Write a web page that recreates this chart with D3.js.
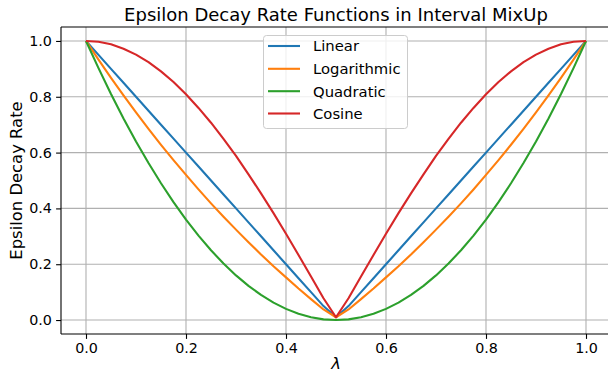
<!DOCTYPE html>
<html>
<head>
<meta charset="utf-8">
<script src="https://cdn.jsdelivr.net/npm/d3@7"></script>
<style>
  html, body { margin: 0; padding: 0; background: #fff; }
  svg { display: block; font-family: "DejaVu Sans", sans-serif; }
</style>
</head>
<body>
<svg id="chart" width="608" height="372"></svg>
<script>
// ---- data ----
const lambdas = [0,0.025,0.05,0.075,0.1,0.125,0.15,0.175,0.2,0.225,0.25,0.275,0.3,0.325,0.35,0.375,0.4,0.425,0.45,0.475,0.5,
                 0.525,0.55,0.575,0.6,0.625,0.65,0.675,0.7,0.725,0.75,0.775,0.8,0.825,0.85,0.875,0.9,0.925,0.95,0.975,1];
const linearVals = [1.00,0.95,0.90,0.85,0.80,0.75,0.70,0.65,0.60,0.55,0.50,0.45,0.40,0.35,0.30,0.25,0.20,0.15,0.10,0.05,0.01,
                    0.05,0.10,0.15,0.20,0.25,0.30,0.35,0.40,0.45,0.50,0.55,0.60,0.65,0.70,0.75,0.80,0.85,0.90,0.95,1.00];
const logVals = [1.00,0.933,0.868,0.805,0.744,0.685,0.628,0.573,0.520,0.468,0.418,0.370,0.324,0.279,0.235,0.193,0.153,0.113,0.075,0.038,0.01,
                 0.038,0.075,0.113,0.153,0.193,0.235,0.279,0.324,0.370,0.418,0.468,0.520,0.573,0.628,0.685,0.744,0.805,0.868,0.933,1.00];
const quadVals = [1.00,0.9025,0.81,0.7225,0.64,0.5625,0.49,0.4225,0.36,0.3025,0.25,0.2025,0.16,0.1225,0.09,0.0625,0.04,0.0225,0.01,0.0025,0.0,
                  0.0025,0.01,0.0225,0.04,0.0625,0.09,0.1225,0.16,0.2025,0.25,0.3025,0.36,0.4225,0.49,0.5625,0.64,0.7225,0.81,0.9025,1.00];
const cosVals = [1.00,0.997,0.988,0.972,0.951,0.924,0.891,0.853,0.809,0.760,0.707,0.649,0.588,0.522,0.454,0.383,0.309,0.233,0.156,0.078,0.01,
                 0.078,0.156,0.233,0.309,0.383,0.454,0.522,0.588,0.649,0.707,0.760,0.809,0.853,0.891,0.924,0.951,0.972,0.988,0.997,1.00];
const seriesNames = ["Linear","Logarithmic","Quadratic","Cosine"];
const seriesColors = ["#1f77b4","#ff7f0e","#2ca02c","#d62728"];
const xTicks = [0.0,0.2,0.4,0.6,0.8,1.0];
const yTicks = [0.0,0.2,0.4,0.6,0.8,1.0];
const titleText = "Epsilon Decay Rate Functions in Interval MixUp";
const xLabel = "λ";
const yLabel = "Epsilon Decay Rate";

// ---- layout ----
const L = 61, R = 611, T = 27, B = 334;
const svg = d3.select("#chart");
const x = d3.scaleLinear().domain([-0.05, 1.05]).range([L, R]);
const y = d3.scaleLinear().domain([-0.05, 1.05]).range([B, T]);

const tickFs = 14.3, legendFs = 14.8, labelFs = 16.4, titleFs = 18;

// grid
const grid = svg.append("g");
grid.selectAll(".vg").data(xTicks).enter().append("line")
  .attr("x1", d => x(d)).attr("x2", d => x(d)).attr("y1", T).attr("y2", B)
  .attr("stroke", "#b0b0b0").attr("stroke-width", 1.1);
grid.selectAll(".hg").data(yTicks).enter().append("line")
  .attr("y1", d => y(d)).attr("y2", d => y(d)).attr("x1", L).attr("x2", R)
  .attr("stroke", "#b0b0b0").attr("stroke-width", 1.1);

// lines
const allVals = [linearVals, logVals, quadVals, cosVals];
const lineGen = d3.line().x(d => x(d[0])).y(d => y(d[1]));
allVals.forEach((vals, i) => {
  svg.append("path")
    .datum(lambdas.map((l, j) => [l, vals[j]]))
    .attr("d", lineGen)
    .attr("fill", "none")
    .attr("stroke", seriesColors[i])
    .attr("stroke-width", 2.1)
    .attr("stroke-linejoin", "round");
});

// axes
const xAxis = d3.axisBottom(x).tickValues(xTicks).tickFormat(d3.format(".1f")).tickSize(4.9).tickPadding(4.2);
const yAxis = d3.axisLeft(y).tickValues(yTicks).tickFormat(d3.format(".1f")).tickSize(4.9).tickPadding(4.2);
const gx = svg.append("g").attr("transform", `translate(0,${B})`).call(xAxis);
const gy = svg.append("g").attr("transform", `translate(${L},0)`).call(yAxis);
[gx, gy].forEach(g => {
  g.select(".domain").remove();
  g.selectAll(".tick line").attr("stroke", "#000").attr("stroke-width", 1.1);
  g.selectAll(".tick text").attr("font-size", tickFs).attr("fill", "#000").attr("font-family", "DejaVu Sans");
});
// spines
svg.append("line").attr("x1", L).attr("x2", L).attr("y1", T).attr("y2", B).attr("stroke", "#000").attr("stroke-width", 1.1);
svg.append("line").attr("x1", L).attr("x2", R).attr("y1", B).attr("y2", B).attr("stroke", "#000").attr("stroke-width", 1.1);
svg.append("line").attr("x1", L).attr("x2", R).attr("y1", T).attr("y2", T).attr("stroke", "#000").attr("stroke-width", 1.1);
svg.append("line").attr("x1", R).attr("x2", R).attr("y1", T).attr("y2", B).attr("stroke", "#000").attr("stroke-width", 1.1);

// title
svg.append("text").attr("x", (L + R) / 2).attr("y", 21).attr("text-anchor", "middle")
  .attr("font-size", titleFs).attr("fill", "#000").text(titleText);
// x label
svg.append("text").attr("x", (L + R) / 2).attr("y", 369).attr("text-anchor", "middle")
  .attr("font-size", labelFs).attr("font-style", "italic").attr("fill", "#000").text(xLabel);
// y label
svg.append("text").attr("transform", `translate(22,${(T + B) / 2}) rotate(-90)`).attr("text-anchor", "middle")
  .attr("font-size", labelFs).attr("fill", "#000").text(yLabel);

// legend
const lg = svg.append("g");
lg.append("rect").attr("x", 263.5).attr("y", 35.5).attr("width", 144).attr("height", 93).attr("rx", 3)
  .attr("fill", "#fff").attr("fill-opacity", 0.8).attr("stroke", "#cccccc").attr("stroke-width", 1);
const rowY = [46, 68.8, 91.2, 113.5];
seriesNames.forEach((name, i) => {
  lg.append("line").attr("x1", 268).attr("x2", 300).attr("y1", rowY[i]).attr("y2", rowY[i])
    .attr("stroke", seriesColors[i]).attr("stroke-width", 2.1);
  lg.append("text").attr("x", 313).attr("y", rowY[i]).attr("dy", "0.36em")
    .attr("font-size", legendFs).attr("fill", "#000").text(name);
});
</script>
</body>
</html>
